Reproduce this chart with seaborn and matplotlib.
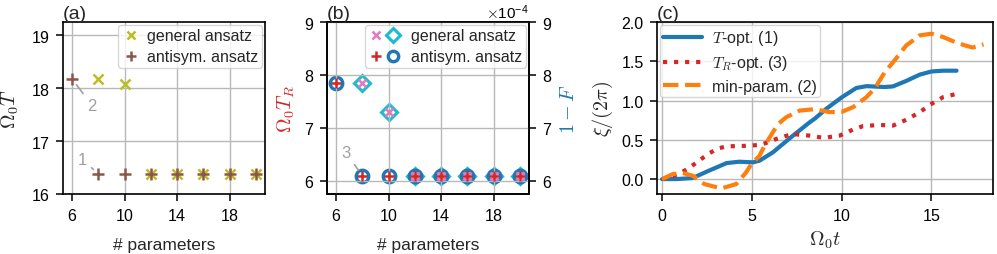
import numpy as np
import matplotlib
matplotlib.use("Agg")
import matplotlib.pyplot as plt
import seaborn as sns
from matplotlib.lines import Line2D
from matplotlib.legend_handler import HandlerTuple

# ---------------- data ----------------
# panel (a)
n_gen_a = [8, 10, 12, 14, 16, 18, 20]
T_gen_a = [18.17, 18.07, 16.37, 16.37, 16.37, 16.37, 16.37]
n_anti_a = [6, 8, 10, 12, 14, 16, 18, 20]
T_anti_a = [18.17, 16.37, 16.37, 16.37, 16.37, 16.37, 16.37, 16.37]

# panel (b)
n_gen_b = [8, 10, 12, 14, 16, 18, 20]
TR_gen_b = [7.85, 7.30, 6.09, 6.09, 6.09, 6.09, 6.09]
F_gen_b = [7.85e-4, 7.30e-4, 6.09e-4, 6.09e-4, 6.09e-4, 6.09e-4, 6.09e-4]
n_anti_b = [6, 8, 10, 12, 14, 16, 18, 20]
TR_anti_b = [7.85, 6.09, 6.09, 6.09, 6.09, 6.09, 6.09, 6.09]
F_anti_b = [7.85e-4, 6.09e-4, 6.09e-4, 6.09e-4, 6.09e-4, 6.09e-4, 6.09e-4, 6.09e-4]

# panel (c)
t_topt = [0.0, 0.8, 1.7, 2.6, 3.6, 4.3, 5.06, 5.43, 6.17, 7.29, 8.22, 8.51, 9.14,
          10.0, 10.82, 11.38, 11.86, 12.4, 12.86, 13.6, 14.35, 15.0, 15.65, 16.4]
xi_topt = [0.0, 0.0, 0.013, 0.106, 0.204, 0.221, 0.213, 0.234, 0.34, 0.553, 0.723,
           0.77, 0.894, 1.04, 1.16, 1.183, 1.178, 1.172, 1.18, 1.25, 1.33, 1.37,
           1.38, 1.38]
t_tropt = [0.0, 0.5, 1.0, 1.5, 2.18, 2.64, 3.11, 3.6, 4.5, 5.43, 5.9, 6.36, 7.25,
           8.22, 9.0, 9.89, 10.63, 11.2, 12.12, 12.86, 13.6, 14.35, 14.91, 15.65,
           16.5]
xi_tropt = [0.0, 0.03, 0.075, 0.14, 0.255, 0.33, 0.39, 0.417, 0.422, 0.434, 0.468,
            0.511, 0.574, 0.553, 0.525, 0.553, 0.63, 0.675, 0.689, 0.681, 0.755,
            0.851, 0.945, 1.043, 1.09]
t_minp = [0.0, 0.6, 1.15, 1.71, 2.36, 3.3, 4.13, 4.68, 4.97, 5.43, 5.71, 6.17,
          6.46, 6.91, 7.39, 7.66, 8.5, 9.33, 10.0, 10.63, 11.38, 11.86, 12.4,
          12.98, 13.6, 14.1, 14.35, 15.0, 15.65, 16.33, 16.9, 17.3, 17.9]
xi_minp = [0.0, 0.064, 0.077, 0.043, -0.064, -0.119, -0.064, 0.085, 0.19, 0.298,
           0.425, 0.596, 0.70, 0.787, 0.84, 0.872, 0.89, 0.853, 0.855, 0.915, 1.043,
           1.16, 1.36, 1.52, 1.702, 1.786, 1.83, 1.851, 1.809, 1.743, 1.70, 1.675,
           1.715]

# ---------------- style ----------------
sns.set_theme(style="ticks", rc={"axes.grid": True})
plt.rcParams.update({
    "font.family": ["Liberation Sans", "DejaVu Sans"],
    "mathtext.fontset": "cm",
    "axes.formatter.use_mathtext": True,
    "font.size": 11.5,
    "axes.labelsize": 12.5,
    "xtick.labelsize": 11.5,
    "ytick.labelsize": 11.5,
    "legend.fontsize": 11.5,
    "grid.color": "#b8b8b8",
    "grid.linewidth": 1.0,
    "axes.edgecolor": "black",
    "axes.linewidth": 1.2,
    "xtick.color": "black",
    "ytick.color": "black",
    "xtick.major.size": 5,
    "ytick.major.size": 5,
    "xtick.major.pad": 4.5,
    "ytick.major.pad": 4.5,
    "xtick.major.width": 1.1,
    "ytick.major.width": 1.1,
    "axes.labelpad": 4.5,
})
MATH = 14.5
LEG = dict(borderpad=0.2, borderaxespad=0.2, labelspacing=0.38, framealpha=0.8)

fig = plt.figure(figsize=(9.97, 2.55), dpi=100)
bot, hgt = 0.2353, 0.6745
axa = fig.add_axes([0.0632, bot, 0.2026, hgt])
axb = fig.add_axes([0.328, bot, 0.2026, hgt])
axc = fig.add_axes([0.659, bot, 0.337, hgt])

# ---------------- (a) ----------------
c_gen_a, c_anti_a = "#bcbd22", "#8c564b"
sns.lineplot(x=n_gen_a, y=T_gen_a, ax=axa, marker="x", linestyle="", color=c_gen_a,
             ms=6.5, mew=1.8, mec=c_gen_a)
sns.lineplot(x=n_anti_a, y=T_anti_a, ax=axa, marker="+", linestyle="", color=c_anti_a,
             ms=8, mew=1.8, mec=c_anti_a)
axa.set_xlim(5.3, 20.7)
axa.set_ylim(16, 19.25)
axa.set_xticks([6, 10, 14, 18])
axa.set_yticks([16, 17, 18, 19])
axa.set_xlabel("# parameters", labelpad=10)
axa.set_ylabel(r"$\Omega_0 T$", fontsize=MATH, labelpad=7)
ann = dict(arrowstyle="-", color="#a0a0a0", lw=1.2, shrinkA=1, shrinkB=5)
axa.annotate("2", xy=(6, 18.17), xytext=(7.5, 17.68), color="#a0a0a0", fontsize=12,
             ha="center", va="center", arrowprops=ann)
axa.annotate("1", xy=(8, 16.37), xytext=(6.8, 16.66), color="#a0a0a0", fontsize=12,
             ha="center", va="center", arrowprops=ann)
h_a = [Line2D([], [], marker="x", ls="", color=c_gen_a, ms=6, mew=1.8),
       Line2D([], [], marker="+", ls="", color=c_anti_a, ms=7.5, mew=1.8)]
axa.legend(h_a, ["general ansatz", "antisym. ansatz"], loc="upper right",
           handlelength=1.2, handletextpad=0.45, **LEG)
axa.set_title("(a)", loc="left", pad=3, fontsize=14)

# ---------------- (b) ----------------
c_x, c_D, c_p, c_o = "#e377c2", "#17becf", "#d62728", "#1f77b4"
axb2 = axb.twinx()
sns.lineplot(x=n_gen_b, y=F_gen_b, ax=axb2, marker="D", linestyle="", color=c_D,
             ms=8, mew=2.2, mec=c_D, mfc="none")
sns.lineplot(x=n_anti_b, y=F_anti_b, ax=axb2, marker="o", linestyle="", color=c_o,
             ms=9, mew=2.4, mec=c_o, mfc="none")
sns.lineplot(x=n_gen_b, y=TR_gen_b, ax=axb, marker="x", linestyle="", color=c_x,
             ms=5.5, mew=1.8, mec=c_x)
sns.lineplot(x=n_anti_b, y=TR_anti_b, ax=axb, marker="+", linestyle="", color=c_p,
             ms=7, mew=1.8, mec=c_p)
axb.set_zorder(axb2.get_zorder() + 1)
axb.patch.set_visible(False)
axb2.grid(False)
axb.set_xlim(5.3, 20.7)
axb.set_ylim(5.75, 9)
axb2.set_ylim(5.75e-4, 9e-4)
axb.set_xticks([6, 10, 14, 18])
axb.set_yticks([6, 7, 8, 9])
axb2.set_yticks([6e-4, 7e-4, 8e-4, 9e-4])
axb2.ticklabel_format(axis="y", style="sci", scilimits=(0, 0))
axb2.yaxis.get_offset_text().set_fontsize(11)
axb.set_xlabel("# parameters", labelpad=10)
axb.set_ylabel(r"$\Omega_0 T_R$", color=c_p, fontsize=MATH)
axb2.set_ylabel(r"$1-F$", color=c_o, fontsize=MATH)
axb.annotate("3", xy=(8, 6.09), xytext=(6.76, 6.53), color="#a0a0a0", fontsize=12,
             ha="center", va="center", arrowprops=ann)
h_b = [(Line2D([], [], marker="x", ls="", color=c_x, ms=5.5, mew=1.8),
        Line2D([], [], marker="D", ls="", color=c_D, ms=7, mew=2.2, mfc="none")),
       (Line2D([], [], marker="+", ls="", color=c_p, ms=7, mew=1.8),
        Line2D([], [], marker="o", ls="", color=c_o, ms=7.5, mew=2.4, mfc="none"))]
axb.legend(h_b, ["general ansatz", "antisym. ansatz"], loc="upper right",
           handler_map={tuple: HandlerTuple(ndivide=None, pad=0.0)},
           handlelength=2.12, handletextpad=0.61, **LEG)
axb.set_title("(b)", loc="left", pad=3, fontsize=14)

# ---------------- (c) ----------------
sns.lineplot(x=t_topt, y=xi_topt, ax=axc, color="#1f77b4", lw=3,
             label=r"$T$-opt. (1)")
sns.lineplot(x=t_tropt, y=xi_tropt, ax=axc, color="#d62728", lw=3,
             linestyle=":", label=r"$T_R$-opt. (3)")
sns.lineplot(x=t_minp, y=xi_minp, ax=axc, color="#ff7f0e", lw=3,
             linestyle="--", label="min-param. (2)")
axc.set_xlim(-0.28, 18.43)
axc.set_ylim(-0.19, 2.0)
axc.set_xticks([0, 5, 10, 15])
axc.set_yticks([0, 0.5, 1.0, 1.5, 2.0])
axc.set_yticklabels(["0.0", "0.5", "1.0", "1.5", "2.0"])
axc.set_xlabel(r"$\Omega_0 t$", fontsize=MATH, labelpad=4)
axc.set_ylabel(r"$\xi/(2\pi)$", fontsize=MATH)
axc.legend(loc="upper left", handlelength=2.4, handletextpad=0.62, **LEG)
axc.set_title("(c)", loc="left", pad=3, fontsize=14)

fig.savefig("out.png", dpi=100)
